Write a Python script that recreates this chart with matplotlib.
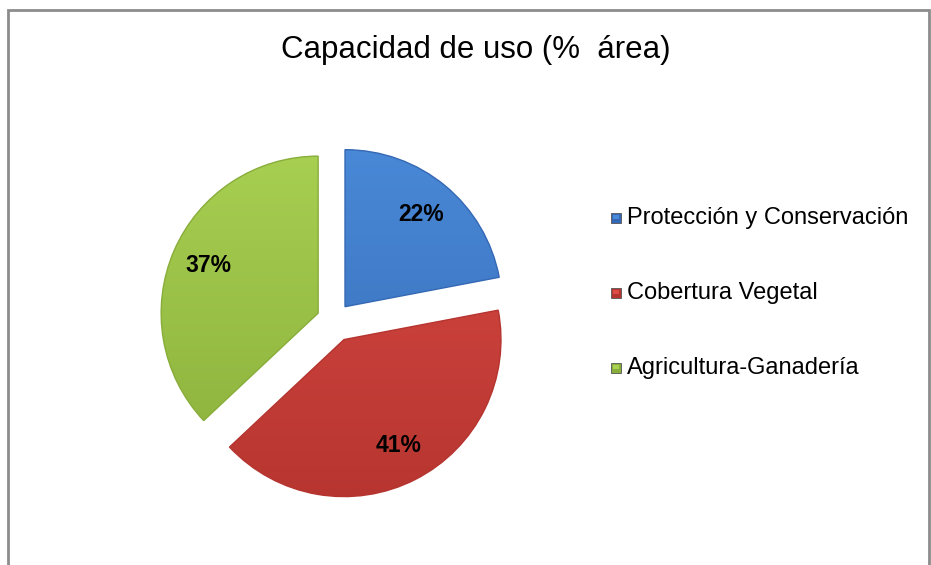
import numpy as np
import matplotlib
matplotlib.use('Agg')
import matplotlib.pyplot as plt
from matplotlib.colors import LinearSegmentedColormap
from matplotlib.patches import Rectangle

labels = ['Protección y Conservación', 'Cobertura Vegetal', 'Agricultura-Ganadería']
values = [22, 41, 37]
title = 'Capacidad de uso (%  área)'

top_cols = ['#4a8ad8', '#dc4b45', '#a9d152']
bot_cols = ['#3468b4', '#b5342f', '#88ad3a']

plt.rcParams['font.family'] = ['Liberation Sans', 'DejaVu Sans']

W, H = 931, 565
fig = plt.figure(figsize=(W / 100, H / 100), dpi=100)
ax = fig.add_axes([0, 0, 1, 1])

# chart frame (bottom edge is cut off in the original)
fig.patches.append(Rectangle((8 / W, -0.05), 921 / W, 1.05 - 10 / H,
                             transform=fig.transFigure, fill=False,
                             edgecolor='#8c8c8c', linewidth=2))

# pixel coordinates, y measured upward
r = 157
wedges, texts, autotexts = ax.pie(
    values, center=(334, H - 320), radius=r, startangle=90, counterclock=False,
    explode=[0.11 * r, 0.14 * r, 0.11 * r], colors=top_cols,
    autopct='%1.0f%%', pctdistance=0.76,
    wedgeprops=dict(edgecolor='none'),
    textprops=dict(fontsize=16.5, fontweight='bold', color='black'))

# vertical gradient fill clipped to each wedge
grad = np.linspace(0, 1, 256).reshape(-1, 1)
for w, c1, c2 in zip(wedges, top_cols, bot_cols):
    cmap = LinearSegmentedColormap.from_list('g', [c1, c2])
    im = ax.imshow(grad, cmap=cmap, aspect='auto', origin='upper',
                   extent=(140, 540, H - 520, H - 130), zorder=w.get_zorder() + 0.1)
    im.set_clip_path(w)
    w.set_edgecolor(c2)
    w.set_linewidth(1.0)
    w.set_zorder(w.get_zorder() + 0.2)
    w.set_facecolor('none')
for t in autotexts:
    t.set_zorder(5)

ax.set_xlim(0, W)
ax.set_ylim(0, H)
ax.set_aspect('equal')
ax.axis('off')

ax.text(476, H - 50, title, ha='center', va='center', fontsize=22.5)

ys = [218, 293, 368]
for lab, c1, c2, y in zip(labels, top_cols, bot_cols, ys):
    ax.add_patch(Rectangle((611, H - y - 5), 10, 10, facecolor=c2, edgecolor='#555555',
                           linewidth=0.6, zorder=5))
    ax.add_patch(Rectangle((613, H - y - 1), 6, 4, facecolor=c1, edgecolor='none', zorder=6))
    ax.text(627, H - y, lab, ha='left', va='center', fontsize=17, zorder=6)

fig.savefig('out.png', dpi=100)
